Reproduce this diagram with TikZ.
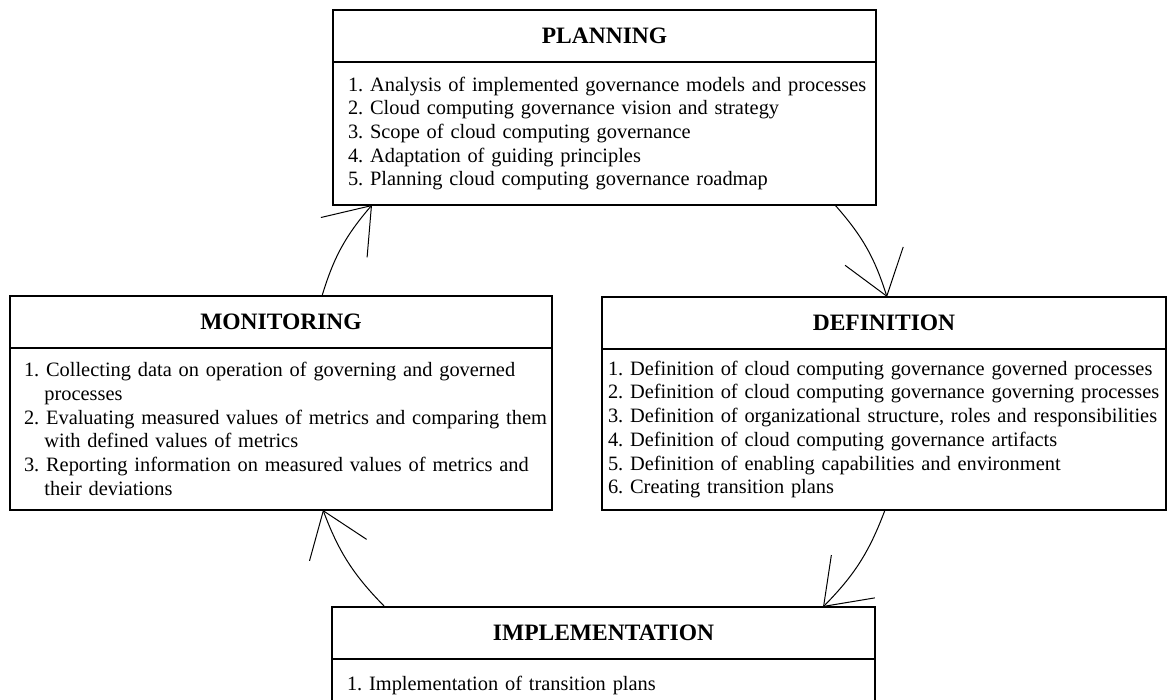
\documentclass[tikz,border=0pt]{standalone}
\usepackage{fontspec}
\setmainfont{Liberation Serif}
\usetikzlibrary{arrows.meta,calc}
\begin{document}
\frenchspacing
\begin{tikzpicture}[x=1pt,y=1pt,
  hdr/.style={draw, line width=1.2pt, minimum height=52pt, inner sep=0pt, outer sep=0pt, anchor=north west, font=\bfseries\fontsize{23.5}{27}\selectfont},
  body/.style={draw, line width=1.2pt, anchor=north west, align=left, inner ysep=0pt, outer sep=0pt, font=\fontsize{20.4}{23.7}\selectfont},
  cyc/.style={line width=1pt, -{Straight Barb[length=42pt,width=61pt]}}]
\useasboundingbox (0,0) rectangle (1169,700);

% PLANNING
\node[hdr, minimum width=543pt] (plan) at (333,690) {PLANNING};
\node[body, text width=513pt, inner xsep=15pt, minimum height=143pt] (planb) at (plan.south west) {%
\mbox{1. Analysis of implemented governance models and processes}\\
\mbox{2. Cloud computing governance vision and strategy}\\
\mbox{3. Scope of cloud computing governance}\\
\mbox{4. Adaptation of guiding principles}\\
\mbox{5. Planning cloud computing governance roadmap}};

% MONITORING
\node[hdr, minimum width=542pt] (mon) at (10,404) {MONITORING};
\node[body, text width=514pt, inner xsep=14pt, minimum height=162pt] (monb) at (mon.south west) {%
\mbox{1. Collecting data on operation of governing and governed}\\
\mbox{\hspace*{1em}processes}\\
\mbox{2. Evaluating measured values of metrics and comparing them}\\
\mbox{\hspace*{1em}with defined values of metrics}\\
\mbox{3. Reporting information on measured values of metrics and}\\
\mbox{\hspace*{1em}their deviations}};

% DEFINITION
\node[hdr, minimum width=564pt] (def) at (602,403) {DEFINITION};
\node[body, text width=552pt, inner xsep=6pt, minimum height=161pt] (defb) at (def.south west) {%
\mbox{1. Definition of cloud computing governance governed processes}\\
\mbox{2. Definition of cloud computing governance governing processes}\\
\mbox{3. Definition of organizational structure, roles and responsibilities}\\
\mbox{4. Definition of cloud computing governance artifacts}\\
\mbox{5. Definition of enabling capabilities and environment}\\
\mbox{6. Creating transition plans}};

% IMPLEMENTATION
\node[hdr, minimum width=543pt] (imp) at (332,93) {IMPLEMENTATION};
\node[body, text width=513pt, inner xsep=15pt, minimum height=52pt] (impb) at (imp.south west) {%
\mbox{1. Implementation of transition plans}};

% connector end points
\coordinate (a1s) at ([xshift=312pt]mon.north west);
\coordinate (a1e) at ([xshift=39pt]planb.south west);
\coordinate (a2s) at ([xshift=502pt]planb.south west);
\coordinate (a2e) at ([xshift=285pt]def.north west);
\coordinate (a3s) at ([xshift=283pt]defb.south west);
\coordinate (a3e) at ([xshift=491pt]imp.north west);
\coordinate (a4s) at ([xshift=53pt]imp.north west);
\coordinate (a4e) at ([xshift=313pt]monb.south west);

\draw[cyc] (a1s) to[bend left=12] (a1e);
\draw[cyc] (a2s) to[bend left=12] (a2e);
\draw[cyc] (a3s) to[bend left=12] (a3e);
\draw[cyc] (a4s) to[bend left=12] (a4e);
\end{tikzpicture}
\end{document}
